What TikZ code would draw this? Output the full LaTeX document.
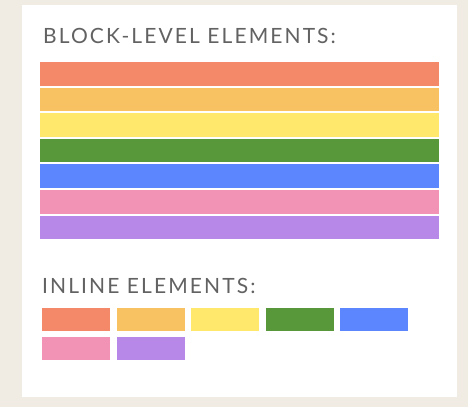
\documentclass[tikz,border=0pt]{standalone}
\usepackage{fontspec}
\newfontfamily\headfont[LetterSpace=10]{Lato}
\usepackage{tikz}

\definecolor{paper}{RGB}{240,236,228}
\definecolor{inkgray}{RGB}{98,98,98}
\definecolor{cRed}{RGB}{244,137,106}
\definecolor{cOrange}{RGB}{248,194,98}
\definecolor{cYellow}{RGB}{255,232,108}
\definecolor{cGreen}{RGB}{88,152,59}
\definecolor{cBlue}{RGB}{92,134,253}
\definecolor{cPink}{RGB}{242,147,181}
\definecolor{cPurple}{RGB}{184,136,232}

\begin{document}
\begin{tikzpicture}[x=1pt, y=-1pt,
  heading/.style={anchor=base west, inner sep=0pt, text=inkgray,
    font=\headfont\fontsize{21}{24}\selectfont}]
  \useasboundingbox (0,0) rectangle (468,407);
  \fill[paper] (0,0) rectangle (468,407);
  \fill[white] (22,5) rectangle (457,397);

  % block-level
  \node[heading] (blockhead) at (43,43) {BLOCK-LEVEL ELEMENTS:};
  \foreach \c [count=\i from 0] in {cRed,cOrange,cYellow,cGreen,cBlue,cPink,cPurple} {
    \fill[\c] (40,62+\i*25.6) rectangle (439,85.5+\i*25.6);
  }

  % inline
  \node[heading] (inlinehead) at (42,293) {INLINE ELEMENTS:};
  \foreach \c [count=\i from 0] in {cRed,cOrange,cYellow,cGreen,cBlue} {
    \fill[\c] (42+\i*74.5,308) rectangle (110+\i*74.5,331);
  }
  \foreach \c [count=\i from 0] in {cPink,cPurple} {
    \fill[\c] (42+\i*74.5,337) rectangle (110+\i*74.5,360);
  }
\end{tikzpicture}
\end{document}
